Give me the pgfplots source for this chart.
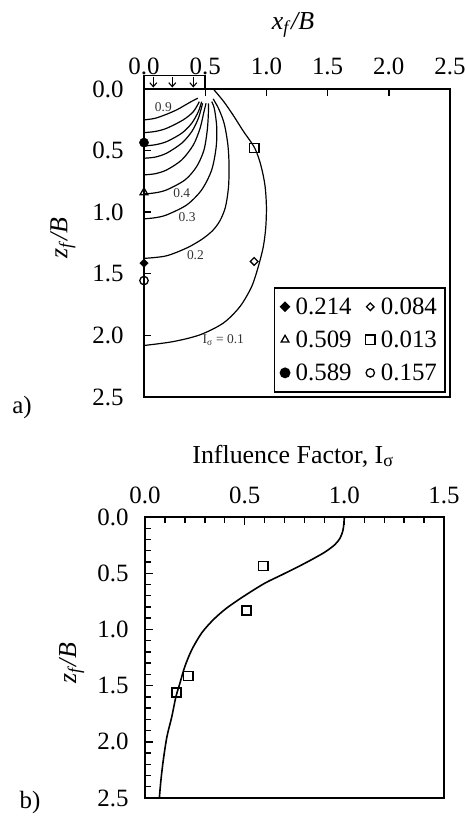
\documentclass[border=0pt]{standalone}
\usepackage{fontspec}
\setmainfont{Liberation Serif}
\usepackage{pgfplots}
\pgfplotsset{compat=1.18}
\usetikzlibrary{arrows.meta}
\newcommand{\tfont}{\fontsize{25}{25}\selectfont}
\newcommand{\lfont}{\fontsize{26}{26}\selectfont}
\newcommand{\cfont}{\fontsize{13.5}{13.5}\selectfont}
\begin{document}
\begin{tikzpicture}
\useasboundingbox (0,0) rectangle (466bp,821bp);
% ---------------- panel a ----------------
\begin{axis}[
  at={(144bp,424bp)}, anchor=south west,
  scale only axis, width=306bp, height=308bp,
  xmin=0, xmax=2.5, ymin=0, ymax=2.5, y dir=reverse,
  clip=false,
  axis line style={line width=1.6bp},
  xtick={0,0.5,1,1.5,2,2.5}, ytick={0,0.5,1,1.5,2,2.5},
  xtick pos=upper, ytick pos=left, xticklabel pos=upper,
  tick align=inside, major tick length=7bp,
  every tick/.style={line width=1.4bp, black},
  /pgf/number format/assume math mode=true,
  xticklabel={\pgfmathprintnumber[fixed,fixed zerofill,precision=1]{\tick}},
  yticklabel={\pgfmathprintnumber[fixed,fixed zerofill,precision=1]{\tick}},
  tick label style={font=\tfont},
  xticklabel style={yshift=11bp},
  yticklabel style={xshift=-17bp},
  xlabel={\textit{x}\textsubscript{\textit{f}}\textit{/B}},
  xlabel style={at={(axis description cs:0.487,1.208)}, anchor=center, font=\lfont},
  ylabel={\textit{z}\textsubscript{\textit{f}}\textit{/B}},
  ylabel style={at={(axis description cs:-0.265,0.516)}, anchor=center, font=\lfont},
  legend columns=2,
  legend cell align=left,
  legend image code/.code={\draw[mark repeat=2,mark phase=2,#1] plot coordinates {(0bp,0bp) (5bp,0bp) (10bp,0bp)};},
  legend style={at={(axis description cs:0.986,0.014)}, anchor=south east,
    draw=black, line width=1.6bp, font=\tfont,
    /tikz/every odd column/.append style={column sep=4bp},
    /tikz/every even column/.append style={column sep=12bp},
    row sep=11bp, inner xsep=6bp, inner ysep=8bp},
]
% contours
\addplot[black, line width=1.2bp, smooth, forget plot] coordinates {
(0,0.251) (0.09,0.238) (0.185,0.205) (0.27,0.168) (0.32,0.14) (0.39,0.10) (0.44,0.075)};
\addplot[black, line width=1.2bp, smooth, forget plot] coordinates {
(0,0.354) (0.09,0.345) (0.185,0.319) (0.32,0.251) (0.403,0.184) (0.452,0.103)};
\addplot[black, line width=1.2bp, smooth, forget plot] coordinates {
(0,0.462) (0.09,0.453) (0.185,0.427) (0.308,0.359) (0.39,0.278) (0.444,0.184) (0.471,0.103)};
\addplot[black, line width=1.2bp, smooth, forget plot] coordinates {
(0,0.562) (0.09,0.553) (0.185,0.521) (0.308,0.44) (0.39,0.346) (0.444,0.238) (0.479,0.116)};
\addplot[black, line width=1.2bp, smooth, forget plot] coordinates {
(0,0.697) (0.09,0.688) (0.185,0.657) (0.308,0.576) (0.403,0.454) (0.458,0.319) (0.49,0.184) (0.507,0.116)};
\addplot[black, line width=1.2bp, smooth, forget plot] coordinates {
(0,0.852) (0.09,0.843) (0.185,0.819) (0.335,0.738) (0.43,0.63) (0.49,0.495) (0.517,0.333) (0.526,0.197) (0.526,0.116)};
\addplot[black, line width=1.2bp, smooth, forget plot] coordinates {
(0,1.054) (0.09,1.045) (0.185,1.022) (0.349,0.941) (0.471,0.819) (0.553,0.657) (0.59,0.468) (0.594,0.306) (0.575,0.16) (0.553,0.103)};
\addplot[black, line width=1.2bp, smooth, forget plot] coordinates {
(0,1.375) (0.18,1.355) (0.35,1.29) (0.47,1.222) (0.56,1.15) (0.62,1.07) (0.665,0.96) (0.69,0.80) (0.695,0.62) (0.685,0.45) (0.655,0.28) (0.61,0.16) (0.565,0.08)};
\addplot[black, line width=1.2bp, smooth, forget plot] coordinates {
(0.566,0) (0.65,0.10) (0.73,0.215) (0.81,0.34) (0.905,0.48) (0.955,0.62) (0.988,0.78) (1.0,0.95) (0.995,1.12) (0.975,1.279) (0.934,1.441) (0.88,1.603) (0.784,1.766) (0.648,1.90) (0.458,1.995) (0.24,2.05) (0,2.082)};
% markers (legend order)
\addplot[only marks, black, mark=square*, mark size=3bp, mark options={rotate=45, fill=black}] coordinates {(0,1.414)};
\addlegendentry{0.214}
\addplot[only marks, black, mark=square, mark size=2.7bp, mark options={rotate=45, line width=1.3bp}] coordinates {(0.9,1.40)};
\addlegendentry{0.084}
\addplot[only marks, black, mark=triangle, mark size=4.5bp, mark options={line width=1.3bp}] coordinates {(0,0.84)};
\addlegendentry{0.509}
\addplot[only marks, black, mark=square, mark size=4.6bp, mark options={line width=1.5bp}] coordinates {(0.9,0.48)};
\addlegendentry{0.013}
\addplot[only marks, black, mark=*, mark size=4.6bp, mark options={fill=black}] coordinates {(0,0.435)};
\addlegendentry{0.589}
\addplot[only marks, black, mark=o, mark size=4.2bp, mark options={line width=1.3bp}] coordinates {(0,1.555)};
\addlegendentry{0.157}
% footing
\draw[line width=1.5bp] (axis cs:0,0) -- (axis cs:0,-0.108) -- (axis cs:0.5,-0.108) -- (axis cs:0.5,0);
\draw[line width=1.1bp, -{Straight Barb[length=4bp,width=7bp]}] (axis cs:0.076,-0.095) -- (axis cs:0.076,-0.012);
\draw[line width=1.1bp, -{Straight Barb[length=4bp,width=7bp]}] (axis cs:0.231,-0.095) -- (axis cs:0.231,-0.012);
\draw[line width=1.1bp, -{Straight Barb[length=4bp,width=7bp]}] (axis cs:0.403,-0.095) -- (axis cs:0.403,-0.012);
% contour labels
\node[font=\cfont, text=black!80] at (axis cs:0.158,0.148) {0.9};
\node[font=\cfont, text=black!80] at (axis cs:0.308,0.846) {0.4};
\node[font=\cfont, text=black!80] at (axis cs:0.352,1.04) {0.3};
\node[font=\cfont, text=black!80] at (axis cs:0.42,1.346) {0.2};
\node[font=\cfont, text=black!80] at (axis cs:0.648,2.036) {I\textsubscript{σ} = 0.1};
\end{axis}
% ---------------- panel b ----------------
\begin{axis}[
  at={(145bp,23bp)}, anchor=south west,
  scale only axis, width=299bp, height=281bp,
  xmin=0, xmax=1.5, ymin=0, ymax=2.5, y dir=reverse,
  axis line style={line width=1.6bp},
  xtick={0,0.5,1,1.5}, ytick={0,0.5,1,1.5,2,2.5},
  minor x tick num=4, minor y tick num=4,
  xtick pos=upper, ytick pos=left, xticklabel pos=upper,
  tick align=inside, major tick length=8bp, minor tick length=5.5bp,
  every tick/.style={line width=1.4bp, black},
  /pgf/number format/assume math mode=true,
  xticklabel={\pgfmathprintnumber[fixed,fixed zerofill,precision=1]{\tick}},
  yticklabel={\pgfmathprintnumber[fixed,fixed zerofill,precision=1]{\tick}},
  tick label style={font=\tfont},
  xticklabel style={yshift=10bp},
  yticklabel style={xshift=-13bp},
  xlabel={Influence Factor, I\textsubscript{σ}},
  xlabel style={at={(axis description cs:0.495,1.217)}, anchor=center, font=\lfont},
  ylabel={\textit{z}\textsubscript{\textit{f}}\textit{/B}},
  ylabel style={at={(axis description cs:-0.245,0.479)}, anchor=center, font=\lfont},
]
\addplot[black, line width=1.6bp, smooth] coordinates {
(1.0,0) (0.998,0.05) (0.993,0.12) (0.978,0.19) (0.95,0.25) (0.90,0.315) (0.83,0.385) (0.76,0.45) (0.68,0.52) (0.60,0.59) (0.50,0.70) (0.41,0.81) (0.345,0.91) (0.285,1.03) (0.235,1.18) (0.20,1.33) (0.175,1.48) (0.155,1.60) (0.134,1.78) (0.11,1.955) (0.092,2.16) (0.08,2.34) (0.072,2.5)};
\addplot[only marks, black, mark=square, mark size=4.6bp, mark options={line width=1.6bp}] coordinates {
(0.593,0.436) (0.51,0.833) (0.217,1.415) (0.159,1.56)};
\end{axis}
\node[font=\tfont] at (22bp,413bp) {a)};
\node[font=\tfont] at (30bp,18bp) {b)};
\end{tikzpicture}
\end{document}
